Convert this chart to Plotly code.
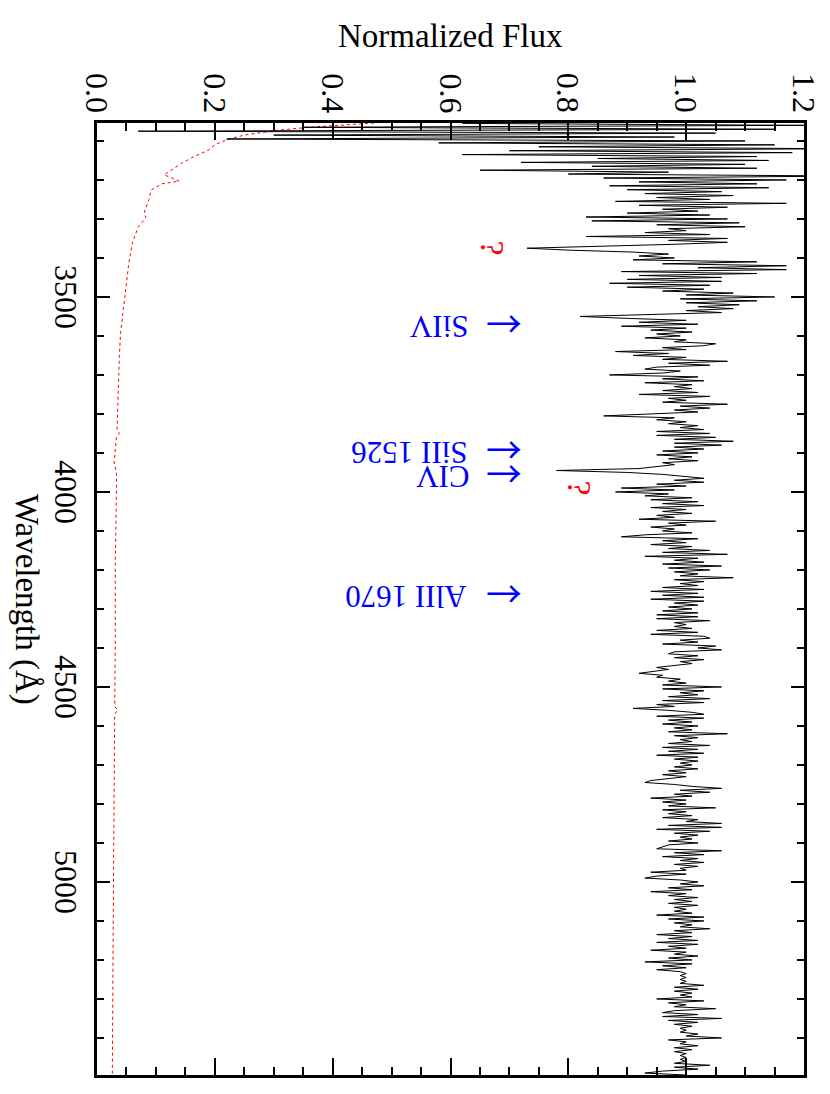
import numpy as np
import plotly.graph_objects as go

# ---------------- data ----------------
WAVE_START = 3055   # Angstrom, first spectrum sample
WAVE_STEP = 5       # Angstrom between samples

FLUX_3055_3450 = [
    0.62, 1.20, 0.35, 1.15, 0.07, 1.05, 0.30, 0.98, 0.22, 1.10,
    0.58, 1.15, 0.75, 1.25, 0.70, 1.18, 0.62, 1.12, 0.85, 1.14,
    0.72, 1.10, 0.84, 1.12, 0.65, 0.97, 0.80, 1.28, 0.86, 1.17,
    0.92, 1.12, 0.87, 1.14, 0.90, 1.06, 0.93, 1.08, 0.95, 1.04,
    0.88, 1.17, 0.92, 1.07, 0.96, 1.02, 0.90, 1.04, 0.83, 1.07,
    0.84, 1.09, 0.95, 1.10, 0.97, 1.00, 0.93, 1.04, 0.83, 1.07,
    0.97, 1.07, 0.98, 0.86, 0.73, 0.80, 0.91, 0.97, 0.92, 0.98,
    0.91, 1.12, 0.96, 1.17, 1.02, 1.17, 0.89, 1.12, 0.92, 1.06,
]
FLUX_3455_3850 = [
    0.90, 1.06, 0.87, 1.04, 0.90, 1.03, 0.96, 1.08, 1.00, 1.15,
    0.99, 1.12, 1.00, 1.09, 1.02, 1.08, 1.00, 1.06, 0.95, 0.82,
    0.90, 1.00, 0.92, 1.02, 0.89, 1.00, 0.94, 1.01, 0.95, 0.99,
    0.93, 1.00, 0.98, 1.05, 1.03, 0.96, 1.00, 0.88, 0.97, 0.91,
    1.00, 0.96, 1.07, 0.97, 1.04, 0.95, 0.93, 0.99, 0.96, 0.87,
    1.02, 0.96, 1.03, 0.93, 1.01, 0.98, 1.01, 0.96, 1.02, 0.92,
    1.04, 0.97, 1.00, 0.96, 1.07, 0.99, 1.04, 0.98, 1.02, 0.95,
    0.86, 0.98, 0.95, 1.00, 0.97, 1.02, 0.99, 1.03, 0.95, 1.04,
]
FLUX_3855_4250 = [
    0.95, 1.05, 0.98, 1.08, 0.98, 1.06, 0.98, 1.03, 0.96, 1.02,
    0.95, 1.01, 0.97, 1.02, 0.96, 0.98, 0.95, 0.92, 0.78, 0.90,
    0.96, 0.99, 1.03, 0.98, 1.03, 0.95, 1.00, 0.89, 0.98, 0.88,
    0.97, 0.93, 1.01, 0.94, 1.02, 0.96, 1.03, 0.94, 1.00, 0.96,
    1.01, 0.95, 0.98, 0.92, 1.05, 0.97, 1.00, 0.94, 0.98, 0.96,
    1.01, 0.93, 0.89, 1.02, 0.96, 1.00, 0.94, 1.01, 0.97, 1.04,
    0.96, 1.07, 0.93, 1.02, 0.98, 1.03, 0.96, 1.06, 0.97, 1.04,
    0.98, 1.02, 0.99, 1.08, 0.98, 1.03, 0.99, 1.02, 0.96, 1.03,
]
FLUX_4255_4650 = [
    0.94, 1.02, 0.96, 1.03, 0.94, 1.03, 0.98, 1.02, 0.97, 1.01,
    0.96, 1.02, 0.95, 1.02, 0.95, 1.04, 0.98, 1.00, 0.98, 1.01,
    0.95, 1.02, 0.94, 1.03, 1.04, 0.99, 1.02, 0.96, 1.05, 1.02,
    1.06, 0.98, 0.97, 1.02, 0.98, 1.03, 0.99, 1.01, 0.98, 0.95,
    0.97, 0.94, 0.92, 0.96, 0.95, 0.99, 0.97, 1.00, 0.96, 1.06,
    0.96, 1.03, 0.99, 1.02, 0.97, 1.04, 0.96, 1.03, 0.95, 0.98,
    0.91, 0.97, 1.01, 1.03, 0.95, 1.03, 0.97, 1.01, 0.96, 1.02,
    0.98, 1.01, 0.97, 1.07, 0.98, 1.02, 0.99, 1.01, 0.97, 1.04,
]
FLUX_4655_5050 = [
    0.96, 1.02, 0.97, 1.03, 0.95, 1.02, 0.98, 1.02, 0.99, 1.01,
    0.98, 1.02, 0.97, 1.00, 0.96, 1.00, 0.97, 0.94, 0.93, 0.98,
    1.01, 1.06, 0.99, 1.04, 0.98, 1.01, 0.94, 1.00, 0.96, 1.00,
    0.97, 1.05, 0.96, 1.00, 0.97, 1.01, 0.96, 1.02, 1.00, 1.06,
    0.97, 1.06, 0.95, 1.04, 0.98, 1.02, 0.99, 1.01, 0.97, 1.02,
    0.97, 0.96, 0.95, 1.06, 0.98, 1.03, 0.96, 1.02, 0.99, 1.03,
    0.98, 1.02, 0.99, 1.00, 0.94, 1.00, 0.95, 0.93, 0.99, 1.02,
    0.99, 1.03, 0.97, 1.01, 0.94, 1.00, 0.97, 1.02, 0.98, 1.01,
]
FLUX_5055_5495 = [
    0.97, 1.02, 0.98, 1.00, 0.98, 1.01, 0.95, 1.03, 0.97, 1.03,
    0.98, 1.01, 0.99, 1.04, 0.98, 1.01, 0.95, 1.01, 0.97, 1.02,
    0.95, 1.02, 0.97, 1.00, 0.94, 1.00, 0.98, 1.02, 0.97, 1.01,
    0.93, 1.01, 0.96, 1.00, 0.95, 0.99, 1.00, 0.99, 1.00, 0.99,
    1.00, 0.99, 1.03, 0.98, 1.02, 0.98, 1.01, 0.99, 1.01, 0.95,
    1.03, 0.97, 1.00, 0.98, 1.05, 0.98, 0.96, 1.02, 0.96, 1.06,
    0.97, 1.02, 0.98, 1.01, 0.99, 1.00, 0.99, 1.02, 1.00, 1.06,
    0.97, 1.00, 0.99, 1.02, 0.98, 1.01, 0.98, 1.00, 0.99, 1.00,
    0.99, 1.00, 0.98, 1.04, 0.98, 1.02, 0.96, 0.93, 1.00,
]

ERR_WAVE = [3054, 3065, 3072, 3085, 3097, 3110, 3123, 3140, 3156, 3170,
            3187, 3203, 3210, 3226, 3250, 3285, 3297, 3320, 3362, 3413,
            3508, 3550, 3592, 3650, 3746, 3840, 3849, 3860, 3926, 3950,
            4000, 4182, 4400, 4550, 4559, 4570, 5000, 5495]
ERR_FLUX = [0.47, 0.36, 0.31, 0.25, 0.22, 0.20, 0.19, 0.165, 0.145, 0.13,
            0.114, 0.14, 0.11, 0.092, 0.088, 0.08, 0.083, 0.07, 0.06, 0.054,
            0.047, 0.043, 0.040, 0.038, 0.036, 0.034, 0.038, 0.033, 0.029, 0.033,
            0.033, 0.031, 0.031, 0.030, 0.035, 0.030, 0.028, 0.026]

LINE_LABELS = ["SiIV", "SiII 1526", "CIV", "AlII 1670"]
LINE_WAVE = [3564, 3887, 3949, 4256]          # arrow positions
LINE_LABEL_FLUX = [0.580, 0.530, 0.586, 0.525]  # label centres
ARROW_FLUX = 0.690
QUERY_WAVE = [3374, 3990]
QUERY_FLUX = [0.671, 0.819]

FLUX_TICKS = [0.0, 0.2, 0.4, 0.6, 0.8, 1.0, 1.2]
FLUX_TICKTEXT = ["0.0", "0.2", "0.4", "0.6", "0.8", "1.0", "1.2"]
WAVE_TICKS = [3500, 4000, 4500, 5000]
WAVE_TICKTEXT = ["3500", "4000", "4500", "5000"]
WAVE_RANGE = [5495, 3054]
FLUX_RANGE = [0.0, 1.2]

# ---------------- figure ----------------
flux = FLUX_3055_3450 + FLUX_3455_3850 + FLUX_3855_4250 + FLUX_4255_4650 + FLUX_4655_5050 + FLUX_5055_5495
wave = WAVE_START + WAVE_STEP * np.arange(len(flux))

FONT = "Liberation Serif"
ARROW_FONT = "Noto Sans CJK JP"

# page has an 8px body margin: figure is placed at (8, 8)
OFF = 8
W, H = 830 - OFF, 1094 - OFF
ML, MR, MT, MB = 97 - OFF, 26, 123 - OFF, 19
pw, ph = W - ML - MR, H - MT - MB


def px_to_paper_x(px):
    return (px - OFF - ML) / pw


def px_to_paper_y(py):
    return (H - MB - (py - OFF)) / ph


fig = go.Figure()
fig.add_trace(go.Scatter(x=ERR_FLUX, y=ERR_WAVE, mode="lines",
                         line=dict(color="red", width=1, dash="dot"),
                         hoverinfo="skip", showlegend=False))
fig.add_trace(go.Scatter(x=flux, y=wave, mode="lines",
                         line=dict(color="black", width=1),
                         hoverinfo="skip", showlegend=False))

ann = []
# tick labels (serif, rotated like the reference)
for v, t in zip(FLUX_TICKS, FLUX_TICKTEXT):
    ann.append(dict(x=v, y=px_to_paper_y(93), xref="x", yref="paper", text=t,
                    showarrow=False, textangle=90,
                    font=dict(family=FONT, size=32, color="black"),
                    xanchor="center", yanchor="middle"))
for v, t in zip(WAVE_TICKS, WAVE_TICKTEXT):
    ann.append(dict(x=px_to_paper_x(66), y=v, xref="paper", yref="y", text=t,
                    showarrow=False, textangle=90,
                    font=dict(family=FONT, size=32, color="black"),
                    xanchor="center", yanchor="middle"))

for lab, w, f in zip(LINE_LABELS, LINE_WAVE, LINE_LABEL_FLUX):
    ann.append(dict(x=f, y=w + 12, xref="x", yref="y", text=lab, showarrow=False,
                    textangle=180, font=dict(family=FONT, size=31, color="blue"),
                    xanchor="center", yanchor="middle"))
    ann.append(dict(x=ARROW_FLUX, y=w, xref="x", yref="y", text="→", showarrow=False,
                    font=dict(family=ARROW_FONT, size=36, color="blue"),
                    xanchor="center", yanchor="middle"))
for w, f in zip(QUERY_WAVE, QUERY_FLUX):
    ann.append(dict(x=f, y=w, xref="x", yref="y", text="?", showarrow=False,
                    textangle=90, font=dict(family=FONT, size=34, color="red"),
                    xanchor="center", yanchor="middle"))
ann.append(dict(x=px_to_paper_x(450), y=px_to_paper_y(36), xref="paper", yref="paper",
                text="Normalized Flux", showarrow=False,
                font=dict(family=FONT, size=33, color="black"),
                xanchor="center", yanchor="middle"))
ann.append(dict(x=px_to_paper_x(27), y=px_to_paper_y(599), xref="paper", yref="paper",
                text="Wavelength (Å)", showarrow=False, textangle=90,
                font=dict(family=FONT, size=33, color="black"),
                xanchor="center", yanchor="middle"))

fig.update_layout(
    width=W, height=H,
    margin=dict(l=ML, r=MR, t=MT, b=MB, autoexpand=False),
    paper_bgcolor="white", plot_bgcolor="white",
    font=dict(family=FONT, size=32, color="black"),
    annotations=ann,
    xaxis=dict(range=FLUX_RANGE, side="top", tickvals=FLUX_TICKS, showticklabels=False,
               ticks="inside", ticklen=17, tickwidth=2, tickcolor="black",
               showline=True, linewidth=2.5, linecolor="black", mirror="ticks",
               showgrid=False, zeroline=False,
               minor=dict(ticks="inside", ticklen=8, tickwidth=2, tickcolor="black",
                          dtick=0.05, tick0=0, showgrid=False)),
    yaxis=dict(range=WAVE_RANGE, tickvals=WAVE_TICKS, showticklabels=False,
               ticks="inside", ticklen=13, tickwidth=2, tickcolor="black",
               showline=True, linewidth=2.5, linecolor="black", mirror="ticks",
               showgrid=False, zeroline=False,
               minor=dict(ticks="inside", ticklen=7, tickwidth=2, tickcolor="black",
                          dtick=100, tick0=3000, showgrid=False)),
)

fig.write_html("out.html")
